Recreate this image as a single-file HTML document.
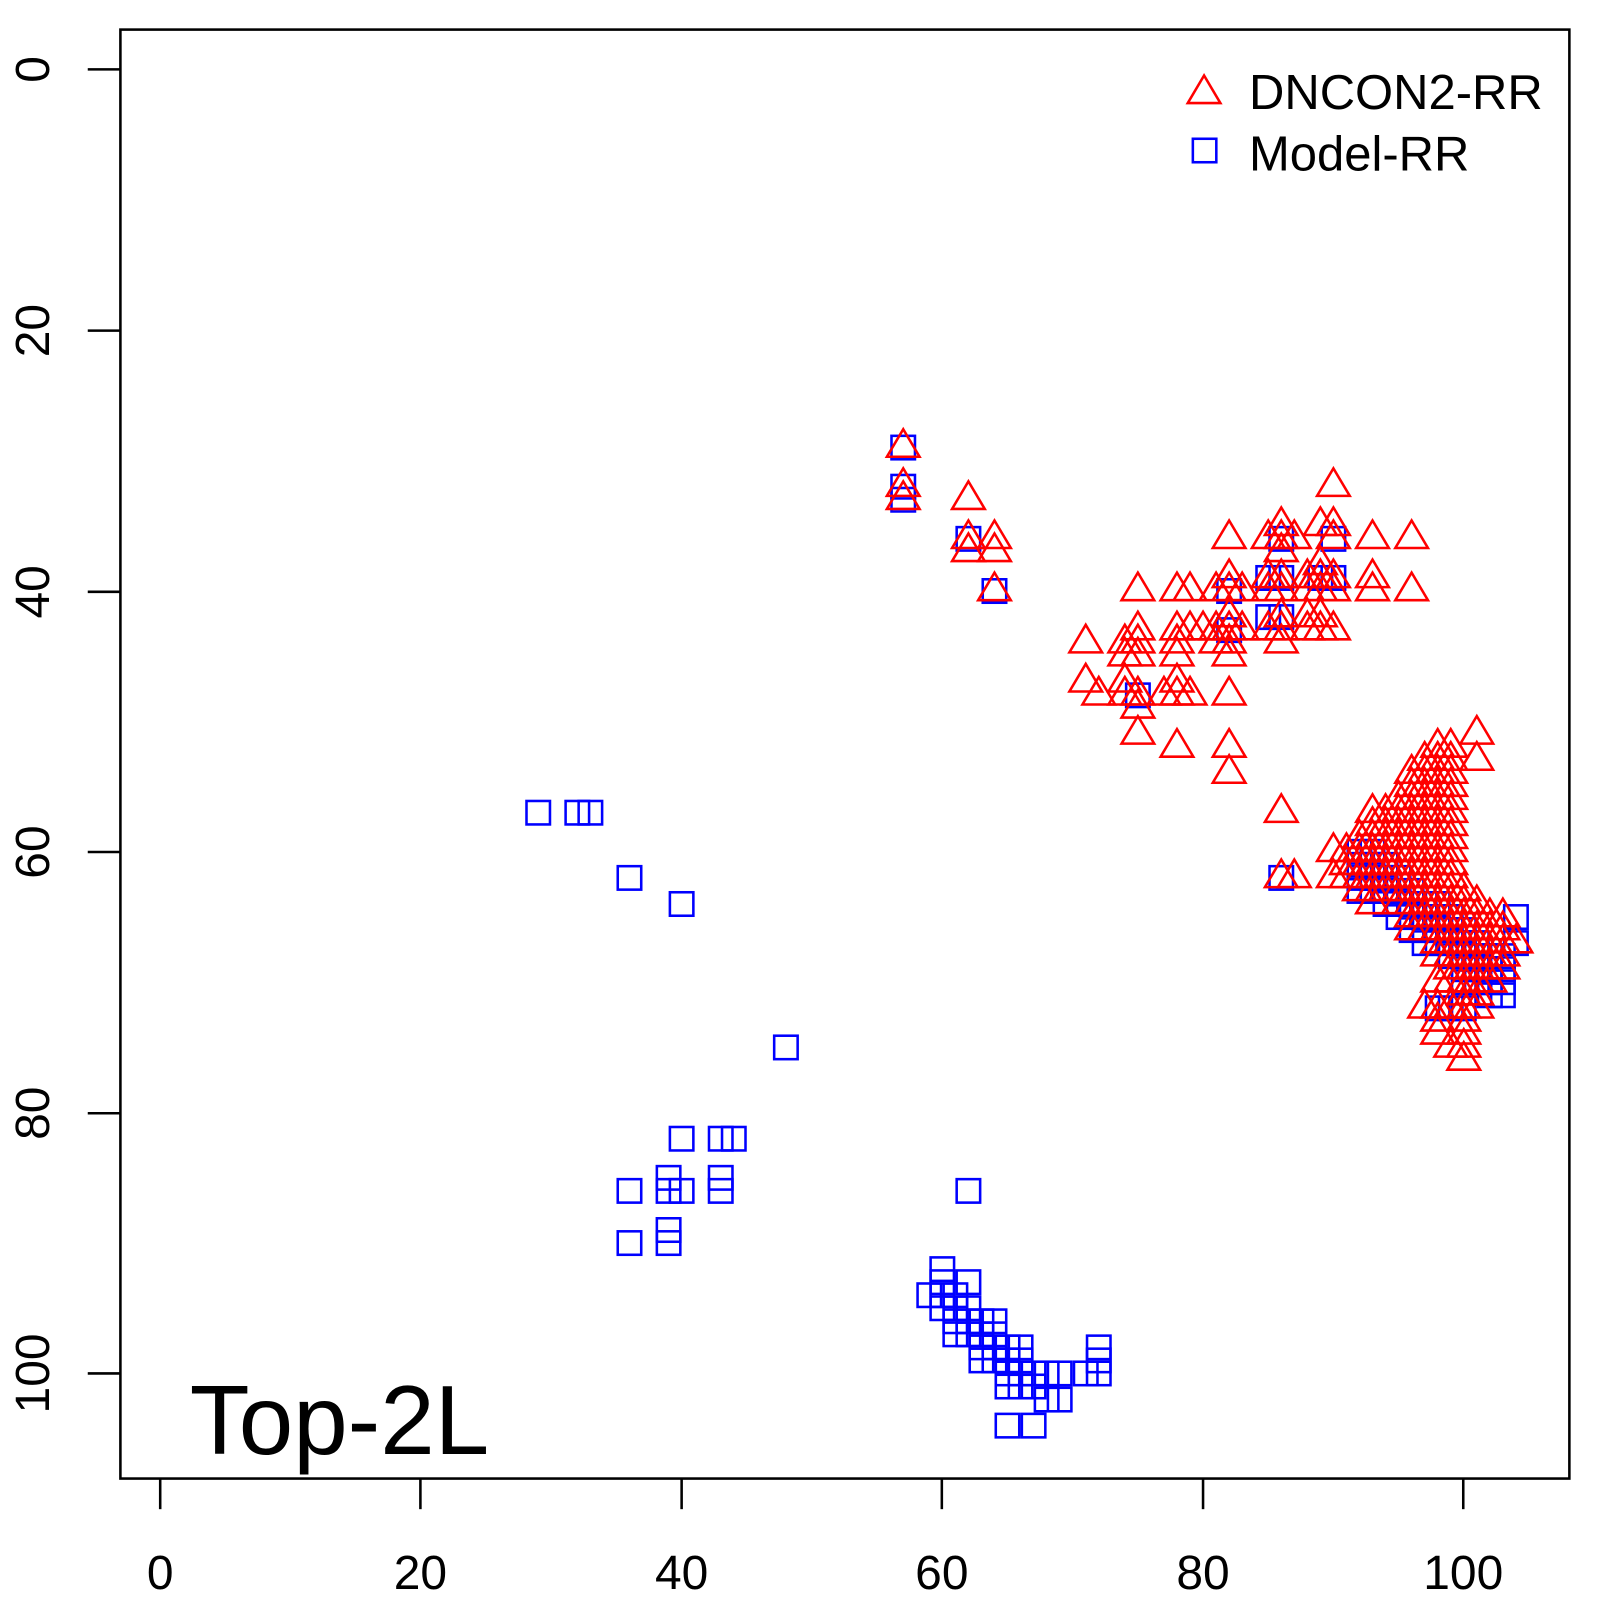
<!DOCTYPE html>
<html><head><meta charset="utf-8"><style>html,body{margin:0;padding:0;background:#fff}svg{display:block}text{font-family:"Liberation Sans",Arial,sans-serif}</style></head>
<body>
<svg id="s" width="1600" height="1600" xmlns="http://www.w3.org/2000/svg">
<g transform="scale(1.0204)">
<rect x="118" y="29" width="1420" height="1420" fill="none" stroke="#000" stroke-width="2.5"/>
<g stroke="#000" stroke-width="2.5">
<line x1="157" y1="1479" x2="157" y2="1449"/><line x1="412" y1="1479" x2="412" y2="1449"/><line x1="668" y1="1479" x2="668" y2="1449"/><line x1="923" y1="1479" x2="923" y2="1449"/><line x1="1179" y1="1479" x2="1179" y2="1449"/><line x1="1434" y1="1479" x2="1434" y2="1449"/>
<line x1="86" y1="68" x2="118" y2="68"/><line x1="86" y1="324" x2="118" y2="324"/><line x1="86" y1="580" x2="118" y2="580"/><line x1="86" y1="835" x2="118" y2="835"/><line x1="86" y1="1091" x2="118" y2="1091"/><line x1="86" y1="1346" x2="118" y2="1346"/>
</g>
<g font-size="47" text-anchor="middle">
<text x="157" y="1557">0</text><text x="412" y="1557">20</text><text x="668" y="1557">40</text><text x="923" y="1557">60</text><text x="1179" y="1557">80</text><text x="1434" y="1557">100</text>
<text transform="translate(48,68) rotate(-90)">0</text>
<text transform="translate(48,324) rotate(-90)">20</text>
<text transform="translate(48,580) rotate(-90)">40</text>
<text transform="translate(48,835) rotate(-90)">60</text>
<text transform="translate(48,1091) rotate(-90)">80</text>
<text transform="translate(48,1346) rotate(-90)">100</text>
</g>
<text x="186" y="1425" font-size="96">Top-2L</text>
<g id="blue" fill="none" stroke="#00f" stroke-width="2.5"></g>
<g id="red" fill="none" stroke="#f00" stroke-width="2.5"></g>
<polygon points="1164,101 1196,101 1180,74" fill="none" stroke="#f00" stroke-width="2.5"/>
<rect x="1169" y="136" width="23" height="23" fill="none" stroke="#00f" stroke-width="2.5"/>
<text x="1224" y="107" font-size="48">DNCON2-RR</text>
<text x="1224" y="167" font-size="48">Model-RR</text>
</g>
</svg>
<script>
var X=function(v){return 157+12.775*v},Y=function(v){return 68+12.78*v};
var B=[[29,57],[32,57],[33,57],[36,62],[40,64],[48,75],[40,82],[43,82],[44,82],[36,86],[39,85],[39,86],[40,86],[43,85],[43,86],[36,90],[39,89],[39,90],[62,86],[57,29],[57,32],[57,33],[62,36],[64,40],[86,62],[104,65],[104,67],[75,48],[82,40],[82,43],[86,36],[86,39],[86,42],[85,39],[85,42],[90,36],[90,39],[89,39],
[60,92],[60,93],[60,94],[59,94],[60,95],[61,94],[61,95],[61,96],[61,97],[62,93],[62,95],[62,96],[62,97],[63,96],[63,97],[63,98],[63,99],[64,96],[64,97],[64,98],[64,99],[65,98],[65,99],[65,100],[65,101],[65,104],[66,98],[66,99],[66,100],[66,101],[67,100],[67,101],[67,104],[68,100],[68,102],[69,100],[69,102],[71,100],[72,98],[72,99],[72,100]];
for(var x=92;x<=103;x++){var lo=60+(x-92)*0.8|0,hi=lo+3;for(var y=lo;y<=hi;y++)B.push([x,y]);}
B.push([98,72],[99,72],[100,72],[100,70],[101,69],[102,69]);
var R=[[57,29],[57,32],[57,33],[62,33],[62,36],[62,37],[64,36],[64,37],[64,40],[71,44],[71,47],[72,48],[74,44],[74,45],[74,47],[74,48],[75,40],[75,43],[75,44],[75,45],[75,48],[75,49],[75,51],[77,48],[78,40],[78,43],[78,44],[78,45],[78,47],[78,48],[78,52],[79,40],[79,43],[79,48],[80,43],[81,40],[81,43],[81,44],[82,36],[82,39],[82,40],[82,42],[82,43],[82,44],[82,45],[82,48],[82,52],[82,54],[83,40],[83,43],[85,36],[85,39],[85,40],[85,43],[86,35],[86,36],[86,37],[86,39],[86,40],[86,42],[86,43],[86,44],[86,57],[86,62],[87,36],[87,62],[88,39],[88,40],[88,42],[88,43],[89,35],[89,38],[89,39],[89,40],[89,42],[89,43],[90,32],[90,35],[90,36],[90,39],[90,40],[90,43],[93,36],[93,39],[93,40],[96,36],[96,40],[90,60],[90,62],[101,51],[101,53]];
var ranges={91:[60,62],92:[59,63],93:[57,64],94:[57,63],95:[56,64],96:[54,66],97:[53,66],98:[52,68],99:[52,69],100:[63,72],101:[64,71],102:[65,70],103:[65,69],104:[67,67]};
for(var k in ranges){for(var y=ranges[k][0];y<=ranges[k][1];y++)R.push([+k,y]);}
R.push([97,72],[98,70],[98,72],[98,73],[98,74],[99,70],[99,72],[99,75],[100,73],[100,74],[100,75],[100,76],[101,72]);
var s='';B.forEach(function(p){s+='<rect x="'+(X(p[0])-11.5)+'" y="'+(Y(p[1])-11.5)+'" width="23" height="23"/>';});
document.getElementById('blue').innerHTML=s;
s='';R.forEach(function(p){var cx=X(p[0]),cy=Y(p[1]);s+='<polygon points="'+(cx-16)+','+(cy+9)+' '+(cx+16)+','+(cy+9)+' '+cx+','+(cy-18)+'"/>';});
document.getElementById('red').innerHTML=s;
</script>
</body></html>
